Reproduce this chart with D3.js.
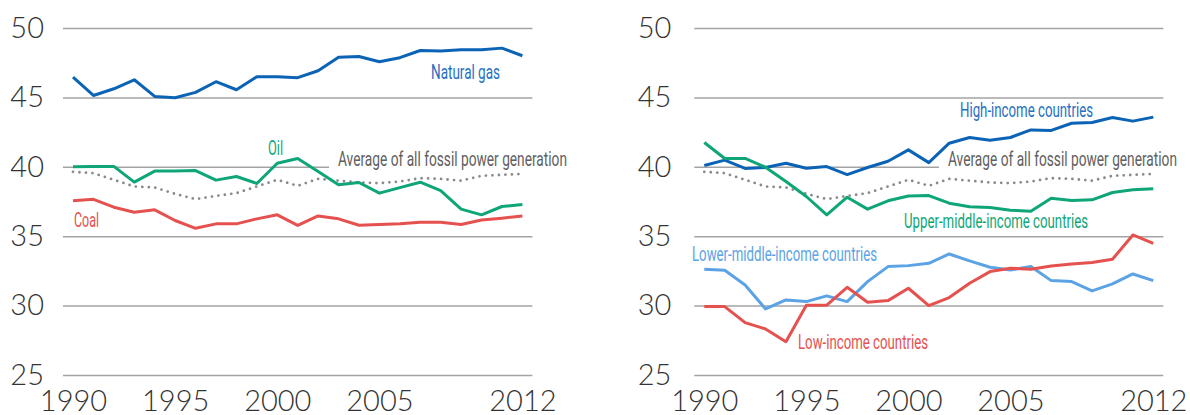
<!DOCTYPE html>
<html>
<head>
<meta charset="utf-8">
<script src="https://cdn.jsdelivr.net/npm/d3@7"></script>
<style>
  html, body { margin: 0; padding: 0; background: #fff; }
  svg { display: block; }
  .tick text { font-family: "Lato", "Open Sans", sans-serif; font-weight: 300; fill: #333; }
  .lbl { font-family: "Roboto", "Liberation Sans", sans-serif; font-size: 20px; }
</style>
</head>
<body>
<svg id="chart" width="1190" height="415"></svg>
<script>
// ---- data ----
const years = [1990,1991,1992,1993,1994,1995,1996,1997,1998,1999,2000,2001,2002,2003,2004,2005,2006,2007,2008,2009,2010,2011,2012];
const xTickYears = [1990, 1995, 2000, 2005, 2012];
const yTicks = [25, 30, 35, 40, 45, 50];

const naturalGas = [46.46,45.14,45.62,46.27,45.07,44.97,45.36,46.13,45.55,46.49,46.49,46.42,46.92,47.90,47.95,47.57,47.86,48.38,48.34,48.43,48.43,48.55,48.00];
const oil        = [40.00,40.03,40.03,38.90,39.69,39.69,39.73,39.04,39.30,38.80,40.26,40.60,39.66,38.70,38.87,38.10,38.50,38.89,38.29,36.95,36.54,37.14,37.28];
const coal       = [37.56,37.66,37.09,36.73,36.90,36.13,35.57,35.89,35.89,36.25,36.54,35.78,36.46,36.25,35.79,35.84,35.89,36.00,36.00,35.84,36.17,36.30,36.46];
const average    = [39.64,39.54,39.06,38.58,38.51,38.05,37.67,37.90,38.10,38.58,39.06,38.63,39.13,39.00,38.87,38.82,38.94,39.18,39.13,39.00,39.35,39.42,39.49];

const highIncome  = [40.09,40.48,39.88,39.95,40.26,39.90,40.02,39.44,39.95,40.40,41.22,40.30,41.70,42.11,41.92,42.11,42.66,42.62,43.14,43.19,43.55,43.29,43.58];
const upperMiddle = [41.75,40.60,40.60,39.97,38.94,37.86,36.54,37.81,36.95,37.55,37.90,37.93,37.38,37.12,37.06,36.87,36.80,37.74,37.57,37.62,38.15,38.34,38.41];
const lowerMiddle = [32.62,32.55,31.49,29.76,30.41,30.29,30.70,30.29,31.73,32.81,32.88,33.05,33.72,33.22,32.76,32.57,32.81,31.80,31.73,31.06,31.56,32.28,31.80];
const lowIncome   = [29.93,29.93,28.77,28.32,27.40,30.03,30.03,31.32,30.24,30.36,31.25,30.00,30.58,31.61,32.45,32.69,32.62,32.86,33.00,33.10,33.34,35.09,34.49];

const avgLabel = "Average of all fossil power generation";

// ---- styles ----
const C = {
  blue: "#0b63b6", green: "#0ea678", red: "#e5514f", light: "#5ba3e4", gray: "#8a8a8a",
  blueText: "#1f6fc2", grayText: "#606060", grid: "#a3a3a3"
};

const svg = d3.select("#chart");
const y = d3.scaleLinear().domain([25, 50]).range([375, 28]);

function label(g, txt, lx, ly, w, color) {
  return g.append("text").attr("class", "lbl").attr("x", lx).attr("y", ly)
    .attr("textLength", w).attr("lengthAdjust", "spacingAndGlyphs")
    .attr("fill", color).text(txt);
}

function panel(opts) {
  const g = svg.append("g");
  const x = d3.scaleLinear().domain([1990, 2012]).range(opts.xr);
  const gx0 = opts.xr[0] - 10, gx1 = opts.xr[1] + 10;

  // grid + y labels
  const ya = g.append("g").attr("transform", `translate(${gx0},0)`)
    .call(d3.axisLeft(y).tickValues(yTicks).tickSize(-(gx1 - gx0)).tickPadding(opts.yPad).tickFormat(d3.format("d")));
  ya.select(".domain").remove();
  ya.selectAll(".tick line").attr("stroke", C.grid).attr("stroke-width", 1.5);
  ya.selectAll(".tick text").attr("font-size", 29);

  // x labels
  const xa = g.append("g").attr("transform", `translate(0,375)`)
    .call(d3.axisBottom(x).tickValues(xTickYears).tickSize(0).tickPadding(15).tickFormat(d3.format("d")));
  xa.select(".domain").remove();
  xa.selectAll(".tick text").attr("font-size", 29);

  // average label with white backing that cuts the 40 gridline
  const avgT = label(g, avgLabel, opts.avgX, 166, 229, C.grayText);
  const bb = avgT.node().getBBox();
  g.insert("rect", "text.lbl").attr("x", opts.avgX - 9).attr("y", bb.y).attr("width", 260).attr("height", bb.height + 2).attr("fill", "#fff");

  const line = d3.line().x((d, i) => x(years[i])).y(d => y(d));
  // average dotted
  g.append("path").datum(opts.avg).attr("d", line).attr("fill", "none")
    .attr("stroke", C.gray).attr("stroke-width", 2.8).attr("stroke-linecap", "round").attr("stroke-dasharray", "0 6.5");
  opts.series.forEach(s => {
    g.append("path").datum(s.values).attr("d", line).attr("fill", "none")
      .attr("stroke", s.color).attr("stroke-width", 3).attr("stroke-linejoin", "round");
  });
  opts.series.forEach(s => label(g, s.name, s.lx, s.ly, s.w, s.tcolor || s.color));
}

panel({
  xr: [73, 522.4], yPad: 19, avgX: 338, avg: average,
  series: [
    { name: "Natural gas", values: naturalGas, color: C.blue, tcolor: C.blueText, lx: 431, ly: 79, w: 69 },
    { name: "Oil", values: oil, color: C.green, lx: 268, ly: 155, w: 15 },
    { name: "Coal", values: coal, color: C.red, lx: 74, ly: 227, w: 25 }
  ]
});

panel({
  xr: [704.3, 1153.3], yPad: 23, avgX: 948, avg: average,
  series: [
    { name: "High-income countries", values: highIncome, color: C.blue, tcolor: C.blueText, lx: 960, ly: 117, w: 133 },
    { name: "Upper-middle-income countries", values: upperMiddle, color: C.green, lx: 904, ly: 228, w: 184 },
    { name: "Lower-middle-income countries", values: lowerMiddle, color: C.light, lx: 692, ly: 261, w: 185 },
    { name: "Low-income countries", values: lowIncome, color: C.red, lx: 798, ly: 349, w: 130 }
  ]
});
</script>
</body>
</html>
